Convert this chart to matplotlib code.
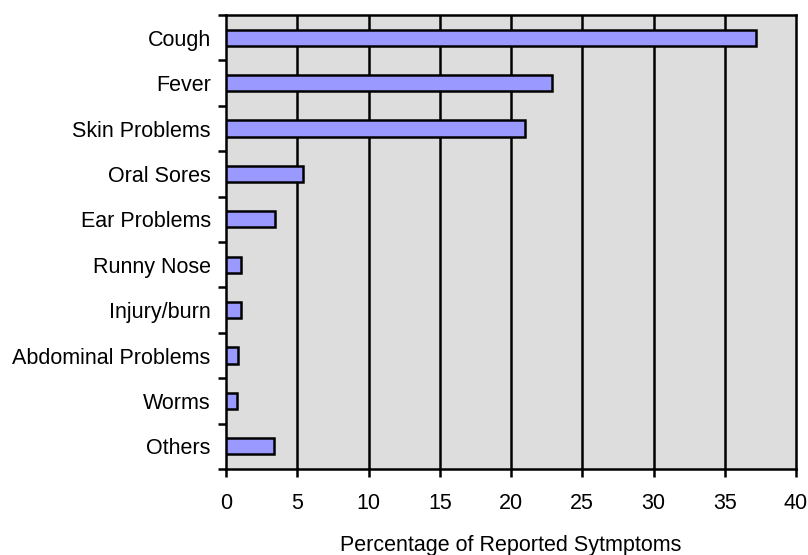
import matplotlib
matplotlib.use("Agg")
import matplotlib.pyplot as plt
import numpy as np

plt.rcParams["font.family"] = ["Liberation Sans", "DejaVu Sans"]

symptoms = ["Cough", "Fever", "Skin Problems", "Oral Sores", "Ear Problems",
            "Runny Nose", "Injury/burn", "Abdominal Problems", "Worms", "Others"]
percent = [37.2, 22.9, 21.0, 5.4, 3.45, 1.05, 1.05, 0.87, 0.78, 3.38]
xticks = [0, 5, 10, 15, 20, 25, 30, 35, 40]

fig = plt.figure(figsize=(8.08, 5.55), dpi=100)
ax = fig.add_axes([226 / 808, 1 - 469 / 555, 570 / 808, 454 / 555])
ax.set_facecolor("#dddddd")

y = np.arange(len(symptoms))
ax.barh(y, percent, height=0.36, color="#9999ff", edgecolor="black", lw=1.8, zorder=3)

ax.set_xlim(0, 40)
ax.set_ylim(len(symptoms) - 0.5, -0.5)
ax.set_xticks(xticks)
ax.set_xticklabels([str(t) for t in xticks], fontsize=15.5)
ax.set_yticks(y)
ax.set_yticklabels(symptoms, fontsize=15.5)
ax.tick_params(axis="y", length=0, pad=11)
ax.set_yticks(np.arange(len(symptoms) + 1) - 0.5, minor=True)
ax.tick_params(axis="y", which="minor", length=6, width=1.8, direction="out")
ax.tick_params(axis="x", length=6, width=1.8, direction="out", pad=11)

for t in xticks[1:-1]:
    ax.axvline(t, color="black", lw=1.8, zorder=1)
for s in ax.spines.values():
    s.set_linewidth(1.8)

ax.set_xlabel("Percentage of Reported Sytmptoms", fontsize=15.5, labelpad=15.5)

fig.savefig("out.png", dpi=100)
